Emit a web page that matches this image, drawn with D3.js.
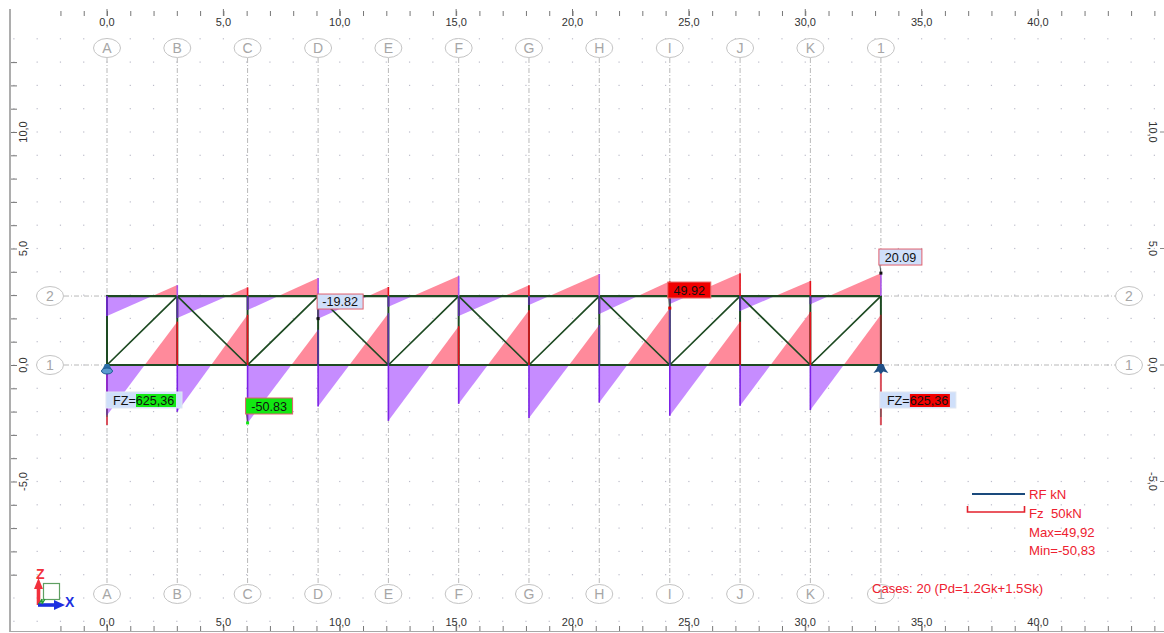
<!DOCTYPE html>
<html>
<head>
<meta charset="utf-8">
<script src="https://cdn.jsdelivr.net/npm/d3@7/dist/d3.min.js"></script>
<style>
html,body{margin:0;padding:0;background:#fff;overflow:hidden}
svg{display:block;font-family:"Liberation Sans",Arial,sans-serif}
</style>
</head>
<body>
<svg id="c" width="1164" height="633"></svg>
<script>
// ---- data (metres and kN) ----
const gridColumns = ["A","B","C","D","E","F","G","H","I","J","K","1"];
const columnStations = [0,3.02,6.04,9.07,12.09,15.11,18.13,21.15,24.18,27.2,30.22,33.25];
const gridRows = ["1","2"];
const rowLevels = [0,2.96];
const axisTicksX = [-2,-1,0,1,2,3,4,5,6,7,8,9,10,11,12,13,14,15,16,17,18,19,20,21,22,23,24,25,26,27,28,29,30,31,32,33,34,35,36,37,38,39,40,41,42,43,44,45,46];
const axisTicksY = [13,12,11,10,9,8,7,6,5,4,3,2,1,0,-1,-2,-3,-4,-5,-6,-7,-8,-9];
const labelsX = [0,5,10,15,20,25,30,35,40];
const labelsY = [10,5,0,-5];
// force at the start and at the end of each bay
const topChordStart = [-17.5,-19.3,-12.3,-19.82,-9.4,-17.5,-7.9,-15.8,-7,-13.2,-7.2];
const topChordEnd = [9.6,7.6,15.8,7.9,17.5,9.4,19.3,13,20,13.2,20.09];
const bottomChordStart = [-44,-41,-50.83,-36.5,-49,-34,-46.5,-33,-44.5,-35.7,-39.5];
const bottomChordEnd = [38,44,31,45.5,34,48,35,49.92,38,46.6,44];
const reactionFz = 625.36;

const svg = d3.select("#c");
const x = d3.scaleLinear().domain([0,40]).range([107,1038]);
const y = d3.scaleLinear().domain([0,10]).range([365,132]);
const force = d3.scaleLinear().domain([0,50]).range([0,57]);
const reaction = d3.scaleLinear().domain([0,reactionFz]).range([0,60]);
const comma = d => d.toFixed(1).replace(".",",");

const PINK="#ff8a9b", VIOLET="#c68cff", EDGE_V="#7c22e6", EDGE_R="#e3121c", GREEN="#1d4a22";
const violetTips = new Set(["B","D","F","H","1"]);
const darkPosts = new Set(["D","E","H","I"]);

// frame
svg.append("line").attr("x1",10).attr("x2",10).attr("y1",9).attr("y2",632).attr("stroke","#8a8a8a").attr("stroke-width",1.4);
svg.append("line").attr("x1",10).attr("x2",1164).attr("y1",631.5).attr("y2",631.5).attr("stroke","#a8a8a8").attr("stroke-width",1.2);

// dot lattice
const dotG = svg.append("g");
d3.range(-4,46).forEach(i=>d3.range(-11,15).forEach(j=>{
  dotG.append("rect").attr("x",x(i)-.6).attr("y",y(j)-.6).attr("width",1.2).attr("height",1.2).attr("fill","#bcbcca");
}));

// axis ticks through d3 axes
function styleAxis(g,c){g.select(".domain").remove();g.selectAll("line").attr("stroke",c||"#777");g.selectAll("text").remove();}
svg.append("g").attr("transform","translate(0,16)").call(d3.axisTop(x).tickValues(axisTicksX).tickSize(5).tickFormat("")).call(styleAxis);
svg.append("g").attr("transform","translate(0,631)").call(d3.axisTop(x).tickValues(axisTicksX).tickSize(5).tickFormat("")).call(styleAxis);
svg.append("g").attr("transform","translate(11,0)").call(d3.axisRight(y).tickValues(axisTicksY).tickSize(6).tickFormat("")).call(styleAxis);
// longer ticks at labelled stations
svg.selectAll(".maj").data(labelsX).join("line").attr("x1",d=>x(d)).attr("x2",d=>x(d)).attr("y1",9).attr("y2",16).attr("stroke","#777");
svg.selectAll(".majb").data(labelsX).join("line").attr("x1",d=>x(d)).attr("x2",d=>x(d)).attr("y1",624).attr("y2",631).attr("stroke","#777");

// axis labels
const lab = {"font-size":11,"fill":"#333"};
[26,626].forEach(ty=>{
  svg.append("g").selectAll("text").data(labelsX).join("text")
    .attr("x",d=>x(d)).attr("y",ty).attr("text-anchor","middle")
    .attr("font-size",lab["font-size"]).attr("fill",lab.fill).text(comma);
});
svg.append("g").selectAll("text").data(labelsY).join("text")
  .attr("transform",d=>`translate(27,${y(d)}) rotate(-90)`).attr("text-anchor","middle")
  .attr("font-size",lab["font-size"]).attr("fill",lab.fill).text(comma);
svg.append("g").selectAll("text").data(labelsY).join("text")
  .attr("transform",d=>`translate(1149,${y(d)}) rotate(90)`).attr("text-anchor","middle")
  .attr("font-size",lab["font-size"]).attr("fill",lab.fill).text(comma);
svg.append("g").selectAll("line").data(labelsY).join("line")
  .attr("x1",1160).attr("x2",1164).attr("y1",d=>y(d)).attr("y2",d=>y(d)).attr("stroke","#888");

// grid axes
const gridLine = svg.append("g").attr("stroke","#b9b9b9").attr("stroke-width",1).attr("stroke-dasharray","5 2 1 2");
gridLine.selectAll(".v").data(columnStations).join("line").attr("x1",d=>x(d)).attr("x2",d=>x(d)).attr("y1",58).attr("y2",584);
gridLine.selectAll(".h").data(rowLevels).join("line").attr("x1",64).attr("x2",1115).attr("y1",d=>y(d)).attr("y2",d=>y(d));

function bubble(cx,cy,t){
  svg.append("ellipse").attr("cx",cx).attr("cy",cy).attr("rx",13.5).attr("ry",9.5).attr("fill","#fff").attr("stroke","#c4c4c4");
  svg.append("text").attr("x",cx).attr("y",cy+5).attr("text-anchor","middle").attr("font-size",14).attr("fill","#a6a6a6").text(t);
}
columnStations.forEach((s,i)=>{bubble(x(s),48,gridColumns[i]);bubble(x(s),594,gridColumns[i]);});
rowLevels.forEach((l,i)=>{bubble(50,y(l),gridRows[i]);bubble(1129,y(l),gridRows[i]);});

// force diagrams
const diagram = svg.append("g");
function bay(i,level,v0,v1){
  const x0=x(columnStations[i]), x1=x(columnStations[i+1]), y0=y(level);
  const t=-v0/(v1-v0), xc=x0+(x1-x0)*t;
  const Y=v=>y0-Math.sign(v)*force(Math.abs(v));
  diagram.append("path").attr("fill",VIOLET).attr("d",d3.line()([[x0,y0],[x0,Y(v0)],[xc,y0]])+"Z");
  diagram.append("path").attr("fill",PINK).attr("d",d3.line()([[xc,y0],[x1,Y(v1)],[x1,y0]])+"Z");
}
topChordStart.forEach((v,i)=>bay(i,rowLevels[1],v,topChordEnd[i]));
bottomChordStart.forEach((v,i)=>bay(i,rowLevels[0],v,bottomChordEnd[i]));

// reactions behind the edges
const reactionG = svg.append("g").attr("stroke","#d9505c").attr("stroke-width",2);
[0,columnStations.length-1].forEach(i=>{
  reactionG.append("line").attr("x1",x(columnStations[i])).attr("x2",x(columnStations[i]))
    .attr("y1",y(0)).attr("y2",y(0)+reaction(reactionFz));
});

// truss verticals
const truss = svg.append("g").attr("stroke",GREEN).attr("stroke-linecap","round");
truss.selectAll(".vert").data(columnStations).join("line").attr("stroke-width",2)
  .attr("x1",d=>x(d)).attr("x2",d=>x(d)).attr("y1",y(rowLevels[0])).attr("y2",y(rowLevels[1]));

// diagram edges at each node
const edges = svg.append("g").attr("stroke-width",1.6);
function edge(s,level,v,col){
  edges.append("line").attr("x1",x(s)).attr("x2",x(s)).attr("y1",y(level))
    .attr("y2",y(level)-Math.sign(v)*force(Math.abs(v))).attr("stroke",col);
}
topChordStart.forEach((v,i)=>edge(columnStations[i],rowLevels[1],v,i===0?EDGE_V:"#5a2ca8"));
bottomChordStart.forEach((v,i)=>edge(columnStations[i],rowLevels[0],v,EDGE_V));
topChordEnd.forEach((v,i)=>edge(columnStations[i+1],rowLevels[1],v,violetTips.has(gridColumns[i+1])?"#a855e8":EDGE_R));
bottomChordEnd.forEach((v,i)=>edge(columnStations[i+1],rowLevels[0],v,darkPosts.has(gridColumns[i+1])?"#5a34a8":(i===10?"#8a2a2a":EDGE_R)));

// chords and diagonals
rowLevels.forEach(l=>truss.append("line").attr("stroke-width",2.2)
  .attr("x1",x(columnStations[0])).attr("x2",x(columnStations[columnStations.length-1])).attr("y1",y(l)).attr("y2",y(l)));
d3.range(columnStations.length-1).forEach(i=>{
  const up=i%2===0;
  truss.append("line").attr("stroke-width",1.7)
    .attr("x1",x(columnStations[i])).attr("x2",x(columnStations[i+1]))
    .attr("y1",y(up?rowLevels[0]:rowLevels[1])).attr("y2",y(up?rowLevels[1]:rowLevels[0]));
});

// supports
const sx0=x(columnStations[0]), sx1=x(columnStations[columnStations.length-1]), sy=y(0);
svg.append("path").attr("fill","#2b6ea8").attr("d",`M${sx0-2},${sy-1}h4l2.5,5h-9Z`);
svg.append("ellipse").attr("cx",sx0).attr("cy",sy+6).attr("rx",5.5).attr("ry",3).attr("fill","#5b9bd0").attr("stroke","#1f5c94");
svg.append("path").attr("fill","#1f4f86").attr("d",`M${sx1-2.5},${sy-1}h5l2,5l3,4l-5,-1.5l-2.5,2.5l-2.5,-2.5l-5,1.5l3,-4Z`);

// value tags
function tag(bx,by,w,h,fill,stroke,t,px,py){
  svg.append("line").attr("x1",bx+1).attr("y1",by+h).attr("x2",px).attr("y2",py).attr("stroke","#555");
  svg.append("rect").attr("x",px-1.5).attr("y",py-1.5).attr("width",3).attr("height",3).attr("fill",fill==="#cfdffa"?"#111":fill);
  svg.append("rect").attr("x",bx).attr("y",by).attr("width",w).attr("height",h).attr("fill",fill).attr("stroke",stroke);
  svg.append("text").attr("x",bx+w/2).attr("y",by+h-3.5).attr("text-anchor","middle").attr("font-size",12.6).attr("fill","#111").text(t);
}
const fmt2=d=>d.toFixed(2);
const X=i=>x(columnStations[i]);
const T=y(rowLevels[1]), B=y(rowLevels[0]);
tag(X(3)-1,T-2,46,15,"#cfdffa","#e0606e",fmt2(topChordStart[3]),X(3),T+force(-topChordStart[3]));
tag(X(11)-2,T-47,43,16,"#cfdffa","#e0606e",fmt2(topChordEnd[10]),X(11),T-force(topChordEnd[10]));
tag(X(8)-2,T-14,43,16,"#f00000","#e86a6a",fmt2(bottomChordEnd[7]),X(8),B-force(bottomChordEnd[7]));
tag(X(2)-2,B+33,47,16,"#12e812","#e0606e",fmt2(bottomChordStart[2]),X(2),B+force(-bottomChordStart[2]));

function fzTag(bx,col,px){
  const by=392;
  svg.append("line").attr("x1",bx+1).attr("y1",by+17).attr("x2",px).attr("y2",by+25).attr("stroke","#555");
  svg.append("rect").attr("x",bx).attr("y",by).attr("width",76).attr("height",16).attr("fill","#cfdffa").attr("stroke","#dfe6f2");
  svg.append("rect").attr("x",bx+30).attr("y",by+2).attr("width",40).attr("height",13).attr("fill",col);
  const t=svg.append("text").attr("x",bx+7).attr("y",by+13).attr("font-size",12.6).attr("fill","#111");
  t.append("tspan").text("FZ=");
  t.append("tspan").text(reactionFz.toFixed(2).replace(".",","));
}
fzTag(sx0-1,"#12e812",sx0);
fzTag(sx1-1,"#f00000",sx1);

// legend
svg.append("line").attr("x1",972).attr("x2",1025).attr("y1",494).attr("y2",494).attr("stroke","#1a4a7c").attr("stroke-width",2);
svg.append("path").attr("d","M967.5,506V512H1024.5V506").attr("fill","none").attr("stroke","#e3202c").attr("stroke-width",1.6);
const RED="#ee2130";
[["RF kN",499],["Fz  50kN",518],["Max=49,92",537],["Min=-50,83",555]].forEach(([t,ty])=>{
  svg.append("text").attr("x",1029).attr("y",ty).attr("xml:space","preserve").style("white-space","pre").attr("font-size",13.2).attr("fill",RED).text(t);
});
svg.append("text").attr("x",872).attr("y",593).attr("font-size",13.1).attr("fill",RED).text("Cases: 20 (Pd=1.2Gk+1.5Sk)");

// coordinate triad
svg.append("rect").attr("x",43.5).attr("y",583.5).attr("width",16).attr("height",16).attr("fill","none").attr("stroke","#5f9f62").attr("stroke-width",1.2);
svg.append("line").attr("x1",38.5).attr("x2",38.5).attr("y1",605).attr("y2",586).attr("stroke","#f2303c").attr("stroke-width",3.6);
svg.append("path").attr("d","M38.5,578l-4.5,11h9Z").attr("fill","#f2303c");
svg.append("line").attr("x1",38).attr("x2",58).attr("y1",605).attr("y2",605).attr("stroke","#1c2fe0").attr("stroke-width",3.6);
svg.append("path").attr("d","M65,605l-11,-5v10Z").attr("fill","#1c2fe0");
svg.append("path").attr("d","M39,604l3,-5M42,604v-5M45,599l-3,5").attr("stroke","#1f9a34").attr("stroke-width",1.4).attr("fill","none");
svg.append("text").attr("x",36).attr("y",579).attr("font-size",14).attr("font-weight","bold").attr("fill","#f2303c").text("Z");
svg.append("text").attr("x",65).attr("y",607).attr("font-size",14).attr("font-weight","bold").attr("fill","#1c2fe0").text("X");
</script>
</body>
</html>
